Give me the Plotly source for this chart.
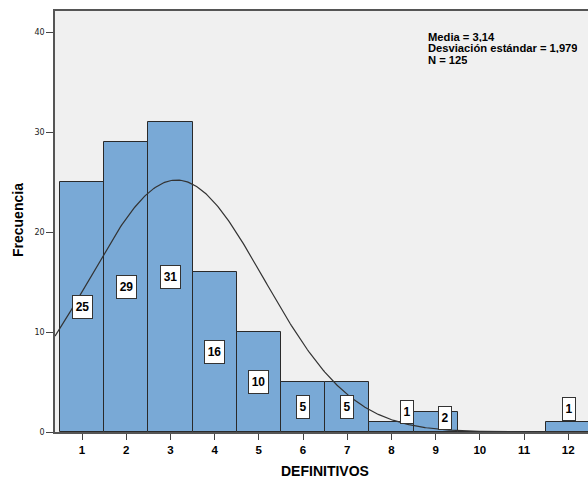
import numpy as np
import plotly.graph_objects as go

categories = [1, 2, 3, 4, 5, 6, 7, 8, 9, 10, 11, 12]
counts = [25, 29, 31, 16, 10, 5, 5, 1, 2, 0, 0, 1]
mean_val = 3.14
sd_val = 1.979
n_val = 125
x_ticks = list(range(1, 13))
y_ticks = [0, 10, 20, 30, 40]
stats_lines = ["Media = 3,14", "Desviación estándar = 1,979", "N = 125"]

# label placement overrides for small bars (SPSS moves them to avoid overlaps): (x shift, y)
label_nudge = {8: (0.35, 2.0), 9: (0.21, 1.4), 12: (0.02, 2.3)}

# plot geometry
W, H = 588, 481
L, R, T, B = 55, 0, 11, 49
pw, ph = W - L - R, H - T - B
px_per_unit = 44.2
x0 = 1 - 27 / px_per_unit
x1 = x0 + pw / px_per_unit
y_top = ph / 10.0

fig = go.Figure()
fig.add_trace(go.Bar(
    x=categories, y=counts, width=1,
    marker=dict(color="#79A9D6", line=dict(color="#2a2a2a", width=1)),
    hoverinfo="skip", showlegend=False,
))

xs = np.linspace(x0, x1, 400)
ys = n_val * 1.0 / (sd_val * np.sqrt(2 * np.pi)) * np.exp(-0.5 * ((xs - mean_val) / sd_val) ** 2)
fig.add_trace(go.Scatter(x=xs, y=ys, mode="lines",
                         line=dict(color="#333333", width=1.2),
                         hoverinfo="skip", showlegend=False))

annotations = []
for c, v in zip(categories, counts):
    if v <= 0:
        continue
    dx, yy = label_nudge.get(c, (0.0, v / 2))
    txt = str(v)
    annotations.append(dict(
        x=c + dx, y=yy, xref="x", yref="y", text="<b>%s</b>" % txt, showarrow=False,
        xanchor="center", yanchor="middle",
        width=7 * len(txt) + 1, height=18,
        font=dict(family="Liberation Sans", size=12, color="#000000"),
        bgcolor="#ffffff", bordercolor="#333333", borderwidth=1, borderpad=2,
    ))

for i, line in enumerate(stats_lines):
    annotations.append(dict(
        x=(426 - L) / pw, y=(T + ph - (36.5 + 11.3 * i)) / ph, xref="paper", yref="paper",
        xanchor="left", yanchor="middle", text="<b>%s</b>" % line, showarrow=False,
        height=11,
        font=dict(family="Liberation Sans", size=11.2, color="#000000"),
    ))

annotations.append(dict(
    x=(18 - L) / pw, y=(T + ph - 220) / ph, xref="paper", yref="paper",
    xanchor="center", yanchor="middle",
    text="<b>Frecuencia</b>", textangle=-90, showarrow=False,
    font=dict(family="Liberation Sans", size=14, color="#000000"),
))
annotations.append(dict(
    x=(325 - L) / pw, y=(T + ph - 471) / ph, xref="paper", yref="paper",
    xanchor="center", yanchor="middle",
    text="<b>DEFINITIVOS</b>", showarrow=False,
    font=dict(family="Liberation Sans", size=14, color="#000000"),
))

fig.update_layout(
    width=W, height=H,
    margin=dict(l=L, r=R, t=T, b=B, pad=0),
    paper_bgcolor="#ffffff", plot_bgcolor="#F0F0F0",
    bargap=0,
    annotations=annotations,
    xaxis=dict(range=[x0, x1], tickvals=x_ticks, ticktext=["<b>%d</b>" % t for t in x_ticks],
               ticks="outside", ticklen=6, tickcolor="#444444", tickwidth=1.2,
               showgrid=False, zeroline=False, showline=True, linecolor="#555555",
               linewidth=1.5, mirror=True,
               tickfont=dict(family="Liberation Sans", size=11.5, color="#000000")),
    yaxis=dict(range=[0, y_top], tickvals=y_ticks, ticks="outside", ticklen=7,
               tickcolor="#444444", tickwidth=1.2,
               showgrid=False, zeroline=False, showline=True, linecolor="#555555",
               linewidth=1.5, mirror=False,
               tickfont=dict(family="DejaVu Sans", size=8, color="#222222")),
)

fig.write_html("out.html")
